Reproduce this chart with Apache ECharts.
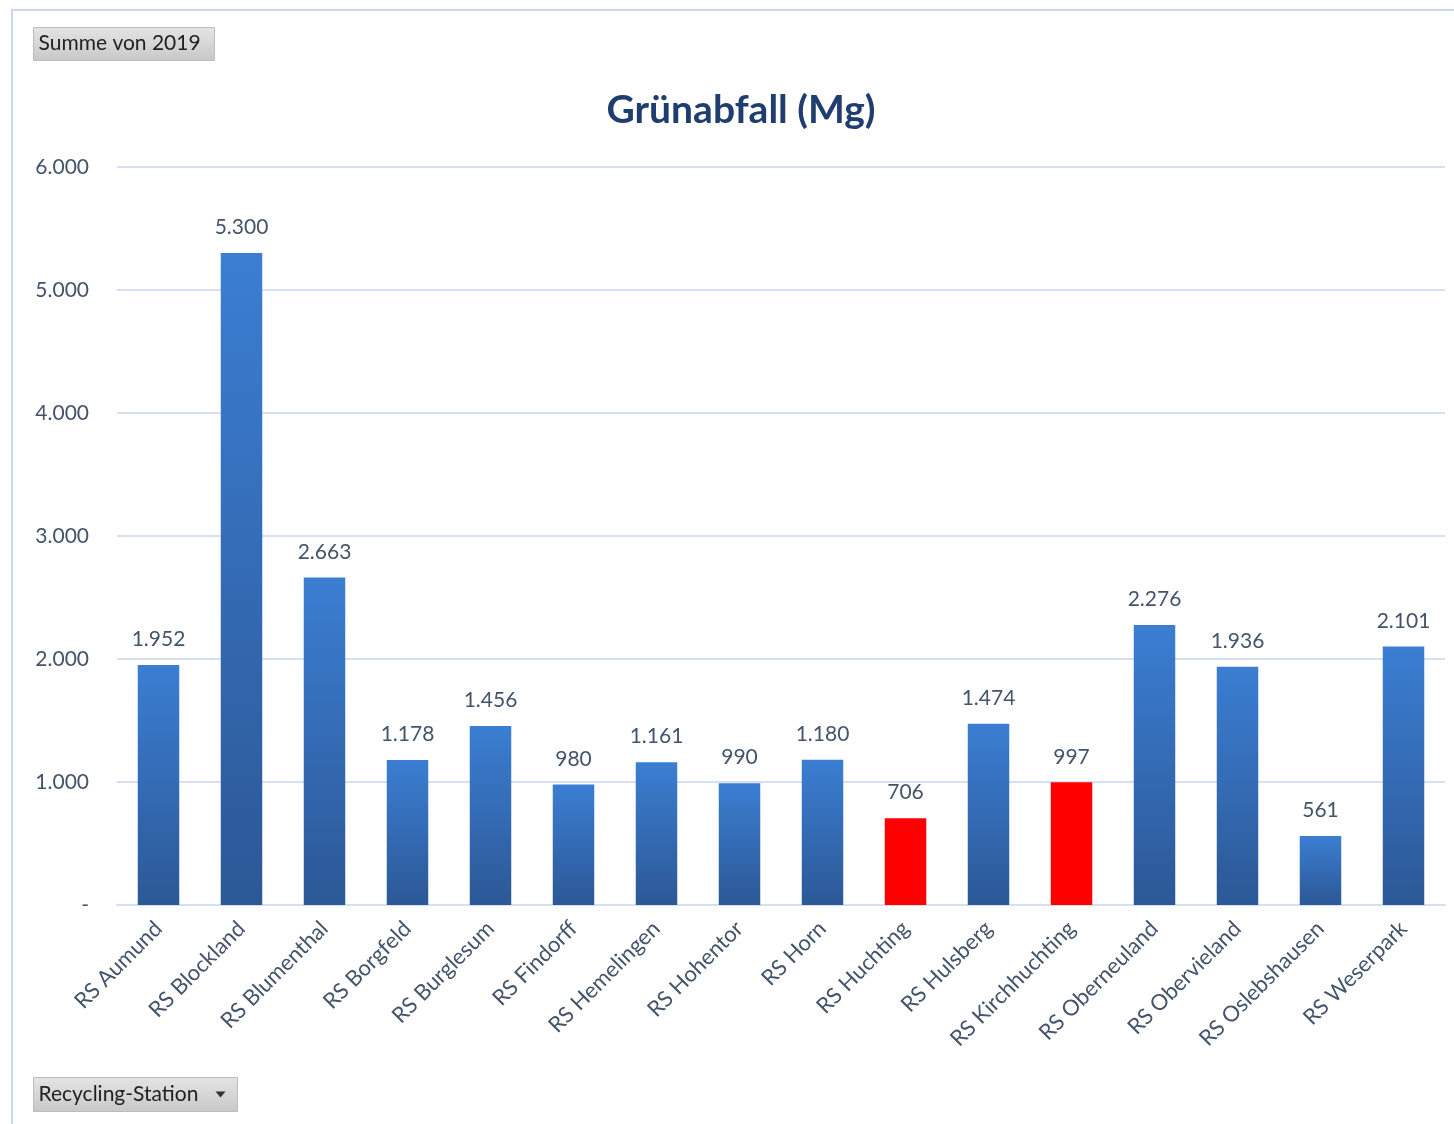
<!DOCTYPE html>
<html>
<head>
<meta charset="utf-8">
<script src="https://cdn.jsdelivr.net/npm/echarts@6/dist/echarts.min.js"></script>
<style>
  html, body { margin: 0; padding: 0; background: #fff; }
  #main { width: 1454px; height: 1124px; }
</style>
</head>
<body>
<div id="main"></div>
<script>
// Recycling-Stationen, Grünabfall 2019 (Mg)
var stations = ['RS Aumund', 'RS Blockland', 'RS Blumenthal', 'RS Borgfeld', 'RS Burglesum',
  'RS Findorff', 'RS Hemelingen', 'RS Hohentor', 'RS Horn', 'RS Huchting', 'RS Hulsberg',
  'RS Kirchhuchting', 'RS Oberneuland', 'RS Obervieland', 'RS Oslebshausen', 'RS Weserpark'];
var values = [1952, 5300, 2663, 1178, 1456, 980, 1161, 990, 1180, 706, 1474, 997, 2276, 1936, 561, 2101];
var highlighted = ['RS Huchting', 'RS Kirchhuchting']; // rot markiert

var font = 'Lato, "Noto Sans", sans-serif';
var textColor = '#44546A';

function fmt(v) {
  if (v === 0) return '-';
  return String(v).replace(/\B(?=(\d{3})+(?!\d))/g, '.');
}

var blueGradient = new echarts.graphic.LinearGradient(0, 0, 0, 1, [
  { offset: 0, color: '#3B7ED2' },
  { offset: 1, color: '#2C5896' }
]);

var barData = values.map(function (v, i) {
  var item = { value: v };
  if (highlighted.indexOf(stations[i]) >= 0) {
    item.itemStyle = { color: '#FF0000' };
  }
  return item;
});

var chart = echarts.init(document.getElementById('main'));
var option = {
  backgroundColor: '#fff',
  animation: false,
  title: {
    text: 'Grünabfall (Mg)',
    left: 736,
    textAlign: 'center',
    top: 86,
    textStyle: { color: '#1F3D6E', fontSize: 39, fontWeight: 'bold', fontFamily: font }
  },
  grid: { left: 117, right: 9, top: 167, bottom: 219 },
  xAxis: {
    type: 'category',
    data: stations,
    axisLine: { lineStyle: { color: '#D5E1F1', width: 2 } },
    axisTick: { show: false },
    axisLabel: {
      rotate: 45,
      color: textColor,
      fontSize: 22,
      fontFamily: font,
      margin: 20,
      interval: 0
    }
  },
  yAxis: {
    type: 'value',
    min: 0,
    max: 6000,
    interval: 1000,
    axisLine: { show: false },
    axisTick: { show: false },
    splitLine: { lineStyle: { color: '#D5E1F1', width: 2 } },
    axisLabel: {
      color: textColor,
      fontSize: 21,
      fontFamily: font,
      margin: 28,
      formatter: fmt
    }
  },
  series: [{
    type: 'bar',
    data: barData,
    barWidth: '50%',
    itemStyle: { color: blueGradient },
    label: {
      show: true,
      position: 'top',
      distance: 15,
      color: textColor,
      fontSize: 21,
      fontFamily: font,
      formatter: function (p) { return fmt(p.value); }
    }
  }],
  graphic: [
    {
      type: 'polyline',
      shape: { points: [[12, 1124], [12, 10], [1454, 10]] },
      style: { stroke: '#C9DAF0', lineWidth: 2, fill: null }
    },
    {
      type: 'group',
      left: 33,
      top: 27,
      children: [
        {
          type: 'rect',
          shape: { x: 0, y: 0, width: 181, height: 33 },
          style: {
            fill: new echarts.graphic.LinearGradient(0, 0, 0, 1, [
              { offset: 0, color: '#E4E4E4' }, { offset: 1, color: '#C8C8C8' }
            ]),
            stroke: '#BDBDBD', lineWidth: 1
          }
        },
        {
          type: 'text',
          x: 5, y: 16,
          style: { text: 'Summe von 2019', font: '21px ' + font, fill: '#222', verticalAlign: 'middle' }
        }
      ]
    },
    {
      type: 'group',
      left: 33,
      top: 1077,
      children: [
        {
          type: 'rect',
          shape: { x: 0, y: 0, width: 204, height: 34 },
          style: {
            fill: new echarts.graphic.LinearGradient(0, 0, 0, 1, [
              { offset: 0, color: '#E4E4E4' }, { offset: 1, color: '#C8C8C8' }
            ]),
            stroke: '#BDBDBD', lineWidth: 1
          }
        },
        {
          type: 'text',
          x: 5, y: 17,
          style: { text: 'Recycling-Station', font: '21px ' + font, fill: '#222', verticalAlign: 'middle' }
        },
        {
          type: 'polygon',
          shape: { points: [[182, 14], [192, 14], [187, 20]] },
          style: { fill: '#333' }
        }
      ]
    }
  ]
};
chart.setOption(option);
</script>
</body>
</html>
